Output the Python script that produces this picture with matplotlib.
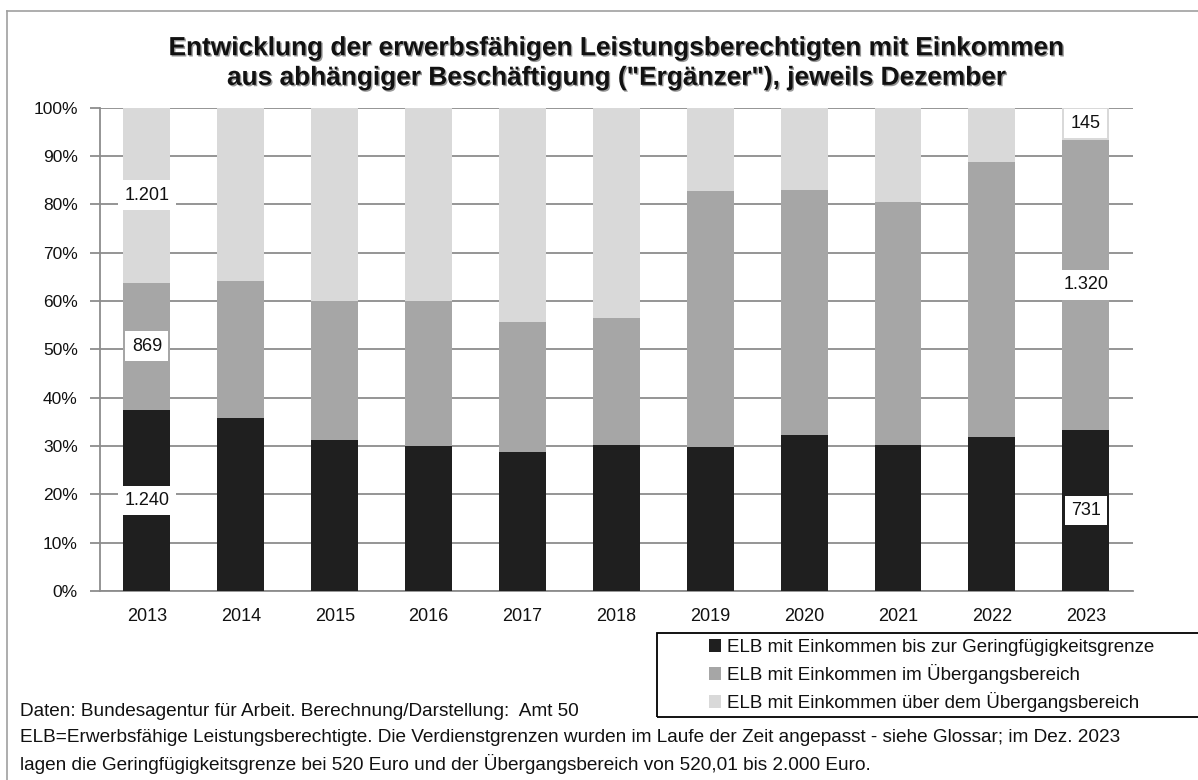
import matplotlib
matplotlib.use("Agg")
import matplotlib.pyplot as plt
import matplotlib.patheffects as pe
from matplotlib.lines import Line2D
from matplotlib.patches import Rectangle
import numpy as np

years = ["2013", "2014", "2015", "2016", "2017", "2018", "2019", "2020", "2021", "2022", "2023"]
share_low = [37.5, 35.8, 31.2, 30.0, 28.7, 30.2, 29.8, 32.2, 30.2, 31.9, 33.3]
share_mid = [26.3, 28.4, 28.8, 30.0, 27.0, 26.2, 52.9, 50.7, 50.3, 56.8, 60.1]
share_high = [36.2, 35.8, 40.0, 40.0, 44.3, 43.6, 17.3, 17.1, 19.5, 11.3, 6.6]
series_names = ["ELB mit Einkommen bis zur Geringfügigkeitsgrenze",
                "ELB mit Einkommen im Übergangsbereich",
                "ELB mit Einkommen über dem Übergangsbereich"]
colors = ["#1f1f1f", "#a6a6a6", "#d9d9d9"]
# value labels (counts) shown for first and last year
label_years = ["2013", "2023"]
label_low = ["1.240", "731"]
label_mid = ["869", "1.320"]
label_high = ["1.201", "145"]

title = "Entwicklung der erwerbsfähigen Leistungsberechtigten mit Einkommen\naus abhängiger Beschäftigung (\"Ergänzer\"), jeweils Dezember"
foot1 = "Daten: Bundesagentur für Arbeit. Berechnung/Darstellung:  Amt 50"
foot2 = "ELB=Erwerbsfähige Leistungsberechtigte. Die Verdienstgrenzen wurden im Laufe der Zeit angepasst - siehe Glossar; im Dez. 2023"
foot3 = "lagen die Geringfügigkeitsgrenze bei 520 Euro und der Übergangsbereich von 520,01 bis 2.000 Euro."

FONT = ["Liberation Sans", "DejaVu Sans"]
plt.rcParams["font.family"] = FONT

W, H = 1198, 780
fig = plt.figure(figsize=(W / 100, H / 100), dpi=100)
fig.patch.set_facecolor("white")

left, right, top, bottom = 100, 1132.7, 107.7, 591
ax = fig.add_axes([left / W, 1 - bottom / H, (right - left) / W, (bottom - top) / H])

x = np.arange(len(years))
low = np.array(share_low)
mid = np.array(share_mid)
high = np.array(share_high)
tot = low + mid + high
low_p = low / tot * 100
mid_p = mid / tot * 100
high_p = high / tot * 100

bars = []
bars.append(ax.bar(x, low_p, width=0.5, color=colors[0], zorder=3, label=series_names[0]))
bars.append(ax.bar(x, mid_p, width=0.5, bottom=low_p, color=colors[1], zorder=3, label=series_names[1]))
bars.append(ax.bar(x, high_p, width=0.5, bottom=low_p + mid_p, color=colors[2], zorder=3, label=series_names[2]))

ax.set_xlim(-0.5, len(years) - 0.5)
ax.set_ylim(0, 100)
ax.set_yticks(np.arange(0, 101, 10))
ax.set_yticklabels([f"{v}%" for v in range(0, 101, 10)])
ax.set_xticks(x)
ax.set_xticklabels(years)
ax.yaxis.grid(True, color="#8c8c8c", linewidth=1.3, zorder=0)
ax.set_axisbelow(True)
for s in ["top", "right"]:
    ax.spines[s].set_visible(False)
for s in ["left", "bottom"]:
    ax.spines[s].set_color("#8c8c8c")
    ax.spines[s].set_linewidth(1.3)
ax.tick_params(axis="y", length=7, width=1.3, color="#8c8c8c", labelsize=12.5, pad=9, labelcolor="#111111")
ax.tick_params(axis="x", length=0, labelsize=13, pad=12, labelcolor="#111111")

# value labels
box = dict(boxstyle="square,pad=0.35", fc="white", ec="white", lw=0)
for yr, a, b, c in zip(label_years, label_low, label_mid, label_high):
    i = years.index(yr)
    ax.text(i, low_p[i] / 2, a, ha="center", va="center", fontsize=13, bbox=box, zorder=5, color="#111111")
    ax.text(i, low_p[i] + mid_p[i] / 2, b, ha="center", va="center", fontsize=13, bbox=box, zorder=5, color="#111111")
    ax.text(i, low_p[i] + mid_p[i] + high_p[i] / 2, c, ha="center", va="center", fontsize=13, bbox=box, zorder=5, color="#111111")

# title with shadow
fig.text(616.5 / W, 1 - 63 / H, title, ha="center", va="center", fontsize=18.9, fontweight="bold",
         color="#111111", linespacing=1.3,
         path_effects=[pe.withSimplePatchShadow(offset=(1, -1), shadow_rgbFace="#555555", alpha=0.6)])

# legend (frame drawn separately, it runs off the right edge)
leg = fig.legend(handles=bars, labels=series_names, loc="upper left",
                 bbox_to_anchor=(709 / W, 1 - 639 / H), frameon=False, fontsize=13.5,
                 handlelength=0.64, handleheight=0.64, handletextpad=0.3, labelspacing=0.43,
                 borderpad=0, borderaxespad=0)
for t in leg.get_texts():
    t.set_color("#111111")
fig.add_artist(Rectangle((656.7 / W, 1 - 716.5 / H), (1250 - 656.7) / W, (716.5 - 632.7) / H,
                         transform=fig.transFigure, fill=False, ec="black", lw=1.3, clip_on=False))

# footnotes
fig.text(20 / W, 1 - 711 / H, foot1, ha="left", va="center", fontsize=13.7, color="#111111")
fig.text(20 / W, 1 - 738 / H, foot2, ha="left", va="center", fontsize=13.7, color="#111111")
fig.text(20 / W, 1 - 764 / H, foot3, ha="left", va="center", fontsize=13.7, color="#111111")

# outer frame
fig.add_artist(Line2D([7 / W, 7 / W], [0, 1 - 11 / H], transform=fig.transFigure, color="#a0a0a0", lw=1.2))
fig.add_artist(Line2D([7 / W, 1], [1 - 11 / H, 1 - 11 / H], transform=fig.transFigure, color="#a0a0a0", lw=1.2))

fig.savefig("out.png", dpi=100)
